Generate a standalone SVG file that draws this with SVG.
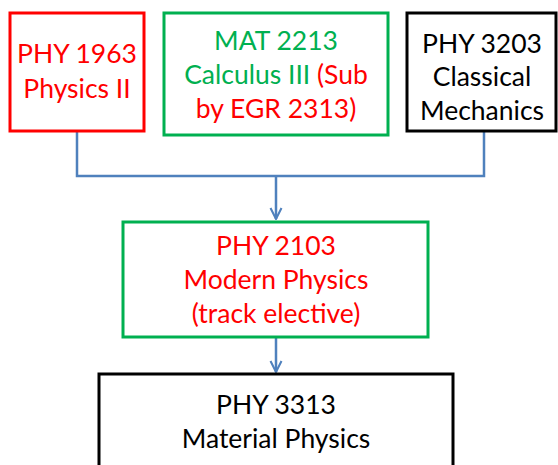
<svg xmlns="http://www.w3.org/2000/svg" width="558" height="465" viewBox="0 0 558 465">
<style>
.box{fill:#fff;stroke-width:3}
.t{font-family:Lato,"Liberation Sans",sans-serif;font-size:26.5px;text-anchor:middle}
.r{fill:#FF0000}.g{fill:#00B050}.k{fill:#000}
.c{fill:none;stroke:#4F81BD;stroke-width:2.5}
</style>
<defs>
<marker id="ah" viewBox="0 0 10 10" refX="9" refY="5" markerWidth="5.5" markerHeight="5.5" orient="auto" markerUnits="strokeWidth">
<path d="M1,1 L9,5 L1,9" fill="none" stroke="#4F81BD" stroke-width="1.5"/>
</marker>
</defs>
<g id="connectors">
<path class="c" d="M77,131 V176 H484 V131"/>
<path class="c" d="M276,176 V219" marker-end="url(#ah)"/>
<path class="c" d="M276,337 V372" marker-end="url(#ah)"/>
</g>
<g id="phy1963">
<rect class="box" x="10" y="13" width="134" height="118" stroke="#FF0000"/>
<text class="t r" x="77" y="63">PHY 1963</text>
<text class="t r" x="77" y="98">Physics II</text>
</g>
<g id="mat2213">
<rect class="box" x="164" y="13" width="224" height="122" stroke="#00B050"/>
<text class="t g" x="276" y="50">MAT 2213</text>
<text class="t" x="276" y="84"><tspan class="g">Calculus III </tspan><tspan class="r">(Sub</tspan></text>
<text class="t r" x="276" y="118">by EGR 2313)</text>
</g>
<g id="phy3203">
<rect class="box" x="407" y="13" width="149" height="118" stroke="#000"/>
<text class="t k" x="482" y="53">PHY 3203</text>
<text class="t k" x="482" y="86">Classical</text>
<text class="t k" x="482" y="120">Mechanics</text>
</g>
<g id="phy2103">
<rect class="box" x="123" y="222" width="305" height="115" stroke="#00B050"/>
<text class="t r" x="276" y="255">PHY 2103</text>
<text class="t r" x="276" y="289">Modern Physics</text>
<text class="t r" x="276" y="323">(track elective)</text>
</g>
<g id="phy3313">
<rect class="box" x="99" y="374" width="354" height="100" stroke="#000"/>
<text class="t k" x="276" y="414">PHY 3313</text>
<text class="t k" x="276" y="448">Material Physics</text>
</g>
</svg>
